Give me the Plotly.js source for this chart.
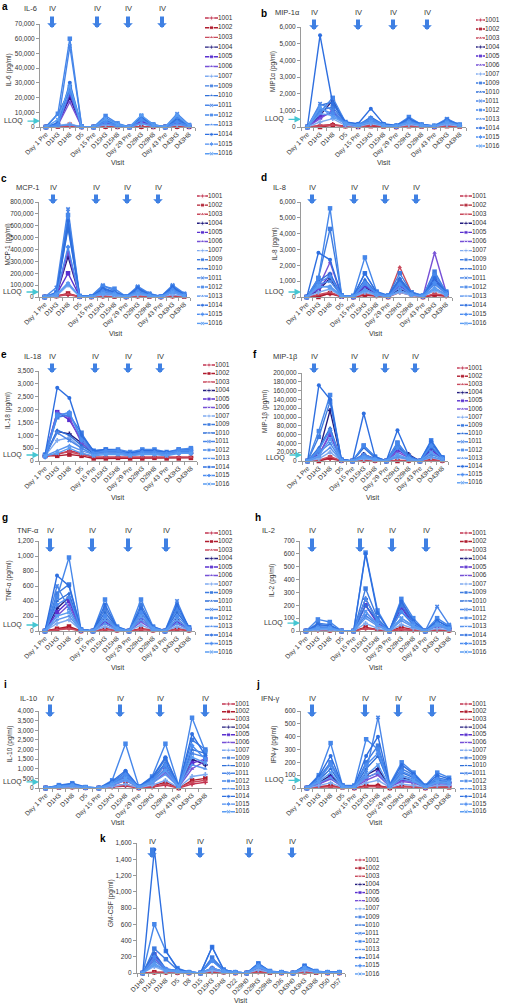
<!DOCTYPE html>
<html><head><meta charset="utf-8">
<script src="https://cdn.plot.ly/plotly-3.0.1.min.js"></script>
<style>html,body{margin:0;padding:0;background:#fff}#chart{width:505px;height:1004px}</style>
</head><body><div id="chart"></div>
<script>
// ---------- categories / series names ----------
const visits = ['Day 1 Pre','D1H3','D1H8','D5','Day 15 Pre','D15H3','D15H8','Day 29 Pre','D29H3','D29H8','Day 43 Pre','D43H3','D43H8'];
const visitsK = ['D1H0','D1H3','D1H8','D5','D8','D15','D15H3','D15H8','D22','D29H0','D29H3','D29H8','D36','D43H0','D43H3','D43H8','D50','D57'];
const patients = ['1001','1002','1003','1004','1005','1006','1007','1009','1010','1011','1012','1013','1014','1015','1016'];

// ---------- values (pg/ml), one row per patient ----------
const il6 = [
[0,200,500,0,0,100,50,0,100,50,0,100,50],
[0,300,1500,50,0,200,100,0,150,80,0,200,100],
[0,100,800,0,0,150,50,0,100,50,0,150,50],
[0,2000,20000,100,0,3000,1000,0,4000,800,0,3000,600],
[0,1500,22000,100,0,2500,800,0,3500,700,0,2500,500],
[0,1200,17000,50,0,2000,700,0,3000,600,0,2000,400],
[0,800,2000,0,0,1500,500,0,2000,500,0,1500,400],
[0,3000,27000,200,0,5000,1500,0,6000,1200,0,5000,1000],
[0,9000,25000,200,0,6000,2000,0,7000,1500,0,6000,1200],
[0,2000,55000,300,0,4000,1200,0,5000,1000,0,9000,1500],
[0,9000,60000,300,0,7500,2500,0,7500,1800,0,7000,1300],
[0,1000,1500,0,0,2000,600,0,2500,600,0,2000,500],
[0,2500,30000,200,0,4500,1500,0,6500,1300,0,4000,800],
[0,1500,24000,100,0,3500,1200,0,5000,1000,0,3500,700],
[0,5000,28000,150,0,5500,1800,0,8000,1400,0,8000,1000]];
const mip1a = [
[0,100,150,50,50,100,50,0,80,50,0,80,50],
[0,0,100,50,0,50,30,0,50,30,0,50,30],
[0,80,120,30,0,80,40,0,60,40,0,60,40],
[0,700,1600,200,50,300,100,50,300,100,50,200,100],
[0,600,900,150,50,400,100,30,250,80,30,200,80],
[0,500,1000,150,50,350,80,30,200,80,30,180,80],
[0,300,500,100,30,200,60,20,150,60,20,150,60],
[0,1000,1200,250,100,500,150,50,400,120,50,350,120],
[0,1300,1500,300,100,600,150,80,500,150,50,400,150],
[0,1400,1000,200,100,400,120,50,300,100,50,500,100],
[0,900,1750,300,150,500,150,80,600,150,80,450,150],
[0,800,700,200,80,300,100,50,300,100,50,300,100],
[0,5500,1400,300,200,1100,200,100,500,150,50,400,120],
[0,1100,800,250,100,450,100,60,350,120,40,350,100],
[0,1200,600,200,100,300,100,50,250,100,50,250,100]];
const mcp1 = [
[0,5000,20000,2000,0,5000,3000,0,5000,3000,0,5000,3000],
[0,8000,30000,2000,0,8000,4000,0,8000,4000,0,8000,4000],
[0,6000,25000,2000,0,6000,3000,0,6000,3000,0,10000,3000],
[0,15000,340000,5000,3000,40000,20000,2000,40000,15000,2000,50000,15000],
[0,20000,200000,5000,3000,30000,15000,2000,30000,10000,2000,40000,10000],
[0,15000,380000,5000,3000,35000,15000,2000,35000,12000,2000,45000,12000],
[0,10000,100000,3000,2000,20000,10000,1000,20000,8000,1000,20000,8000],
[0,30000,600000,8000,5000,80000,40000,3000,70000,25000,3000,80000,20000],
[0,25000,580000,7000,5000,60000,30000,3000,60000,20000,3000,70000,20000],
[0,80000,740000,10000,8000,100000,50000,5000,90000,30000,5000,100000,30000],
[0,40000,690000,8000,6000,90000,70000,4000,80000,25000,4000,90000,25000],
[0,20000,120000,5000,3000,40000,20000,2000,40000,15000,2000,50000,15000],
[0,35000,640000,8000,6000,70000,40000,4000,75000,20000,4000,85000,20000],
[0,25000,420000,6000,4000,50000,30000,3000,50000,15000,3000,60000,15000],
[0,20000,110000,5000,3000,30000,20000,2000,30000,10000,2000,40000,10000]];
const il8 = [
[0,100,200,20,0,100,50,0,300,100,0,100,50],
[0,0,250,20,0,150,80,0,1000,200,0,150,80],
[0,150,300,30,0,200,100,0,1900,300,0,200,100],
[0,400,1200,50,0,600,200,50,500,200,50,1000,200],
[0,500,1400,50,0,700,250,50,700,200,50,1200,250],
[0,600,2200,50,0,500,200,50,800,250,50,2800,300],
[0,300,500,30,0,300,100,30,300,100,30,400,100],
[0,1200,4300,100,50,1500,300,80,1500,300,80,1600,300],
[0,1000,1500,80,50,1100,250,60,1200,250,60,1000,250],
[0,800,1000,60,50,800,200,50,900,200,50,800,200],
[0,1200,5600,100,80,2500,350,100,1000,300,100,1400,350],
[0,600,700,50,30,500,150,40,600,150,40,600,150],
[0,2800,2350,100,60,1500,300,80,1100,250,60,1200,300],
[0,900,1300,80,40,900,250,60,800,200,60,900,250],
[0,700,600,50,30,400,150,40,400,150,40,500,150]];
const il18 = [
[200,250,400,300,150,150,150,150,150,150,150,150,150],
[200,200,250,200,100,100,120,100,100,120,100,100,120],
[150,300,350,250,150,150,150,150,150,150,150,150,150],
[200,1150,1050,700,300,350,300,250,300,300,250,350,300],
[200,1900,1600,800,350,400,350,300,350,350,300,400,350],
[250,1900,1700,700,300,350,350,300,350,300,300,300,300],
[200,800,900,500,250,300,300,250,300,300,250,300,300],
[200,1700,1800,1100,350,450,400,300,400,400,300,450,450],
[200,1200,1000,600,300,400,350,300,350,350,300,400,350],
[200,1100,800,500,250,350,350,250,300,300,250,350,350],
[250,1800,1850,900,400,450,450,350,450,450,350,450,500],
[200,400,600,400,250,300,300,250,300,300,250,350,350],
[250,2850,2450,1000,400,450,400,300,400,400,350,400,400],
[150,1750,1900,800,300,400,400,250,350,350,300,400,400],
[200,300,500,300,200,250,250,200,250,250,200,300,300]];
const mip1b = [
[0,1000,5000,500,0,1000,500,0,1000,500,0,2000,500],
[0,0,8000,500,0,2000,1000,0,0,1000,0,3000,1000],
[0,2000,10000,500,0,3000,1000,0,2000,1000,0,2000,1000],
[0,20000,115000,2000,0,15000,5000,0,30000,15000,0,30000,8000],
[0,15000,60000,2000,0,10000,5000,0,25000,10000,0,25000,6000],
[0,10000,65000,2000,0,8000,4000,0,20000,8000,0,20000,5000],
[0,5000,20000,1000,0,5000,2000,0,8000,3000,0,8000,2000],
[0,55000,135000,3000,0,35000,8000,0,42000,10000,0,40000,8000],
[0,30000,75000,3000,0,30000,7000,0,35000,8000,0,30000,7000],
[0,20000,40000,2000,0,15000,5000,0,10000,5000,0,15000,5000],
[0,68000,150000,3000,0,35000,10000,0,40000,10000,0,47000,8000],
[0,10000,30000,1500,0,10000,3000,0,10000,4000,0,10000,3000],
[0,172000,140000,4000,0,108000,10000,0,70000,12000,0,45000,8000],
[0,25000,70000,2000,0,12000,5000,0,30000,8000,0,35000,6000],
[0,12000,50000,1500,0,8000,3000,0,15000,5000,0,20000,4000]];
const tnfa = [
[0,20,40,0,0,20,10,0,20,10,0,20,10],
[0,30,60,0,0,30,10,0,30,10,0,30,10],
[0,20,30,0,0,20,10,0,20,10,0,20,10],
[0,300,450,10,0,150,30,0,200,30,0,150,30],
[0,250,400,10,0,120,30,0,150,30,0,120,30],
[0,200,350,10,0,100,20,0,120,20,0,100,20],
[0,100,150,5,0,60,15,0,80,15,0,60,15],
[0,500,620,20,0,300,50,0,350,50,0,300,40],
[0,400,500,20,0,250,40,0,300,40,0,250,40],
[0,600,300,10,0,200,30,0,250,30,0,400,30],
[0,450,980,20,0,420,60,0,420,60,0,300,50],
[0,150,200,10,0,100,20,0,150,20,0,100,20],
[0,740,600,20,0,350,50,0,300,50,0,350,50],
[0,350,450,15,0,200,40,0,250,40,0,200,40],
[0,200,250,10,0,150,30,0,200,30,0,150,30]];
const il2 = [
[0,5,5,0,0,20,10,0,10,5,0,5,5],
[0,10,5,0,0,30,10,0,30,10,0,10,5],
[0,5,10,0,0,20,10,0,15,10,0,10,5],
[0,30,20,0,0,250,80,0,200,60,0,50,20],
[0,20,20,0,0,200,60,0,180,50,0,40,20],
[0,20,15,0,0,150,50,0,230,60,0,40,15],
[0,10,10,0,0,60,20,0,50,20,0,20,10],
[0,60,50,0,0,330,100,0,200,70,0,80,30],
[0,40,40,0,0,200,80,0,150,50,0,60,20],
[0,30,30,0,0,120,50,0,100,40,0,190,50],
[0,90,70,0,0,610,160,0,250,100,0,100,40],
[0,20,20,0,0,100,40,0,80,30,0,40,15],
[0,50,40,0,0,600,140,0,230,80,0,80,30],
[0,30,30,0,0,250,80,0,150,60,0,60,20],
[0,20,20,0,0,150,50,0,100,40,0,50,20]];
const il10 = [
[0,20,30,10,0,50,100,0,50,150,0,200,300],
[0,30,50,10,0,80,200,0,100,300,0,400,500],
[0,20,40,10,0,60,150,0,80,200,0,300,400],
[0,80,150,30,0,200,600,50,400,1200,100,1500,1200],
[0,60,120,20,0,150,500,40,300,1000,80,1300,1500],
[0,50,100,20,0,120,400,30,250,800,60,1000,1400],
[0,30,60,10,0,80,200,20,150,400,30,600,700],
[0,120,200,40,0,300,800,60,500,1500,100,2500,2000],
[0,100,180,30,0,250,700,50,450,1300,80,2000,1800],
[0,80,150,30,0,200,600,40,350,1000,70,1800,1600],
[0,150,250,50,0,400,2300,80,600,2300,120,3650,1900],
[0,50,100,20,0,150,400,30,250,700,50,1200,1000],
[0,130,220,40,0,350,900,70,550,1600,100,2800,1700],
[0,90,170,30,0,250,700,50,400,1200,80,2200,1500],
[0,70,130,20,0,180,500,40,300,900,60,1600,1300]];
const ifng = [
[0,10,20,5,0,20,20,0,15,10,0,10,10],
[0,10,15,5,0,15,15,0,10,10,0,10,5],
[0,5,10,5,0,10,10,0,10,10,0,10,5],
[0,40,100,10,5,100,150,10,80,60,5,50,40],
[0,30,80,10,5,80,120,10,60,50,5,40,30],
[0,30,70,10,5,60,100,10,50,40,5,30,30],
[0,20,40,5,5,40,60,5,30,20,5,20,20],
[0,80,200,20,10,200,330,20,150,100,10,80,60],
[0,60,150,15,10,150,250,20,120,80,10,60,50],
[0,50,200,15,10,120,550,20,100,70,10,50,40],
[0,100,350,20,20,380,300,30,200,120,20,120,80],
[0,40,80,10,5,80,120,10,70,50,5,40,30],
[0,90,250,20,15,250,400,20,180,110,15,100,70],
[0,70,180,15,10,180,270,20,130,90,10,70,50],
[0,50,120,10,5,100,180,10,90,60,5,50,40]];
const gmcsf = [
[0,5,5,2,0,0,10,5,0,0,10,5,0,0,10,5,0,0],
[0,10,10,5,0,0,20,10,0,0,15,5,0,0,10,5,0,0],
[0,5,8,3,0,0,15,8,0,0,10,5,0,0,10,5,0,0],
[0,200,40,20,5,0,60,20,5,0,80,15,5,0,60,15,5,5],
[0,230,40,20,5,0,50,20,5,0,70,15,5,0,50,15,5,5],
[0,180,35,15,5,0,40,15,5,0,60,10,5,0,50,10,5,5],
[0,80,20,10,5,0,30,10,5,0,40,10,5,0,30,10,5,5],
[0,300,170,40,10,0,190,40,10,0,110,20,10,0,80,20,10,10],
[0,250,50,30,10,0,160,30,10,0,100,20,10,0,70,20,10,10],
[0,150,40,25,10,0,150,30,5,0,90,20,10,0,90,20,10,10],
[0,600,270,60,10,0,320,40,10,0,120,25,10,0,90,25,10,10],
[0,120,30,20,5,0,60,20,5,0,70,15,5,0,60,15,5,5],
[0,1520,270,50,10,0,320,40,10,0,115,20,10,0,85,20,10,10],
[0,200,50,30,10,0,150,30,10,0,100,20,10,0,70,20,10,10],
[0,100,30,20,5,0,60,20,5,0,80,15,5,0,60,15,5,5]];
const lloqValues = {a:4000,b:460,c:42000,d:316,e:233,f:13600,g:80,h:62,i:315,j:60};

// ---------- styles ----------
const colors = ['#c2334f','#b01c2e','#c94a5c','#231c7e','#5a30cf','#7650d6','#7eaaf0','#3e7ce0','#2f6fd8','#4a86e8','#4687ea','#5a94ee','#2e6fe0','#4b8cf0','#5a9cf2'];
const symbols = ['cross','square','triangle-up','cross','square','triangle-up','cross','square','triangle-up','x','square','triangle-up','circle','diamond','x'];

const panels = [
 {id:'a',name:'IL-6',yt:'IL-6 (pg/ml)',cats:visits,vals:il6,max:70000,dt:10000,
  g:{xL:40,xR:195,yT:24,yB:127,lL:205,lR:218,lY:18,lD:9.7,tx:30,ty:9,iv:[52,97,128,162],ivY:9,aT:15,aB:28,lab:[5,7],ytx:8,vx:117,vy:163}},
 {id:'b',name:'MIP-1\u03b1',yt:'MIP1\u03b1 (pg/ml)',cats:visits,vals:mip1a,max:6000,dt:1000,
  g:{xL:301,xR:466,yT:27,yB:127,lL:476,lR:485,lY:20,lD:9,tx:287,ty:13,iv:[314,358,393,427],ivY:13,aT:18,aB:30,lab:[264,14],ytx:273,vx:383,vy:163}},
 {id:'c',name:'MCP-1',yt:'MCP-1 (pg/ml)',cats:visits,vals:mcp1,max:800000,dt:100000,
  g:{xL:39,xR:190,yT:202,yB:297,lL:197,lR:208,lY:196,lD:9.1,tx:27,ty:187,iv:[53,96,127,158],ivY:187,aT:193,aB:204,lab:[4,178],ytx:7,vx:115,vy:334}},
 {id:'d',name:'IL-8',yt:'IL-8 (pg/ml)',cats:visits,vals:il8,max:6000,dt:1000,
  g:{xL:301,xR:452,yT:202,yB:297,lL:460,lR:472,lY:196,lD:9.1,tx:279,ty:187,iv:[312,354,385,416],ivY:187,aT:193,aB:204,lab:[264,177],ytx:274,vx:375,vy:334}},
 {id:'e',name:'IL-18',yt:'IL-18 (pg/ml)',cats:visits,vals:il18,max:3500,dt:500,
  g:{xL:39,xR:197,yT:371,yB:461,lL:203,lR:215,lY:365,lD:8.5,tx:32,ty:356,iv:[52,95,128,160],ivY:356,aT:362,aB:373,lab:[4,354],ytx:8,vx:117,vy:497}},
 {id:'f',name:'MIP-1\u03b2',yt:'MIP-1\u03b2 (pg/ml)',cats:visits,vals:mip1b,max:200000,dt:20000,lloqShift:-3,
  g:{xL:302,xR:448,yT:373,yB:461,lL:457,lR:468,lY:368,lD:8.2,tx:285,ty:356,iv:[314,354,385,415],ivY:356,aT:362,aB:373,lab:[255,354],ytx:265,vx:372,vy:497}},
 {id:'g',name:'TNF-\u03b1',yt:'TNF-\u03b1 (pg/ml)',cats:visits,vals:tnfa,max:1200,dt:200,
  g:{xL:39,xR:195,yT:541,yB:631,lL:205,lR:218,lY:533,lD:8.5,tx:28,ty:530,iv:[50,92,128,166],ivY:530,aT:537,aB:552,lab:[5,517],ytx:9,vx:117,vy:667}},
 {id:'h',name:'IL-2',yt:'IL-2 (pg/ml)',cats:visits,vals:il2,max:700,dt:100,
  g:{xL:300,xR:455,yT:541,yB:631,lL:460,lR:472,lY:533,lD:8.5,tx:268,ty:530,iv:[312,360,392,426],ivY:530,aT:537,aB:552,lab:[258,517],ytx:272,vx:375,vy:667}},
 {id:'i',name:'IL-10',yt:'IL-10 (pg/ml)',cats:visits,vals:il10,max:4000,dt:500,
  g:{xL:39,xR:212,yT:711,yB:788,lL:222,lR:235,lY:704,lD:7.7,tx:28,ty:698,iv:[50,120,160,205],ivY:698,aT:703,aB:717,lab:[5,684],ytx:9,vx:117,vy:822}},
 {id:'j',name:'IFN-\u03b3',yt:'IFN-\u03b3 (pg/ml)',cats:visits,vals:ifng,max:600,dt:100,
  g:{xL:301,xR:455,yT:711,yB:788,lL:460,lR:472,lY:704,lD:7.7,tx:270,ty:698,iv:[312,365,398,432],ivY:698,aT:703,aB:717,lab:[258,684],ytx:273,vx:375,vy:822}},
 {id:'k',name:'',yt:'GM-CSF (pg/ml)',cats:visitsK,vals:gmcsf,max:1600,dt:200,
  g:{xL:137,xR:345,yT:843,yB:973,lL:355,lR:365,lY:860,lD:8.14,tx:0,ty:0,iv:[152,200,249,292],ivY:841,aT:846,aB:858,lab:[103,838],ytx:111,vx:240,vy:1000}}
];

const W=505,H=1004;
const fx=p=>p/W, fy=p=>1-p/H;
const FONT='"Liberation Sans", Arial, sans-serif';
const TXT='#333';
const traces=[];
const layout={width:W,height:H,margin:{l:0,r:0,t:0,b:0},paper_bgcolor:'#fff',plot_bgcolor:'#fff',
  showlegend:false,font:{family:FONT,size:7,color:TXT},annotations:[]};
const ann=layout.annotations;

panels.forEach((P,n)=>{
  const G=P.g, i=n+1, li=n+12;
  const sx=i===1?'':String(i), lx=String(li);
  layout['xaxis'+sx]={domain:[fx(G.xL),fx(G.xR)],anchor:'y'+sx,type:'category',range:[-0.5,P.cats.length-0.5],
    showline:true,linecolor:'#9a9a9a',linewidth:1,ticks:'outside',ticklen:3,tickcolor:'#9a9a9a',tickson:'boundaries',
    tickangle:-45,tickfont:{size:6.5,color:TXT},showgrid:false,zeroline:false,fixedrange:true};
  layout['yaxis'+sx]={domain:[fy(G.yB),fy(G.yT)],anchor:'x'+sx,range:[0,P.max],dtick:P.dt,tick0:0,tickformat:',',
    showline:true,linecolor:'#9a9a9a',linewidth:1,ticks:'outside',ticklen:3,tickcolor:'#9a9a9a',
    tickfont:{size:6.5,color:TXT},showgrid:false,zeroline:false,fixedrange:true};
  // legend axes
  layout['xaxis'+lx]={domain:[fx(G.lL),fx(G.lR)],anchor:'y'+lx,range:[0,1],visible:false,fixedrange:true};
  layout['yaxis'+lx]={domain:[fy(G.lY+14.5*G.lD),fy(G.lY-0.5*G.lD)],anchor:'x'+lx,range:[14.5,-0.5],visible:false,fixedrange:true};

  P.vals.forEach((row,s)=>{
    traces.push({type:'scatter',mode:'lines+markers',x:P.cats,y:row,xaxis:'x'+sx,yaxis:'y'+sx,
      name:patients[s],line:{color:colors[s],width:1.4},
      marker:{symbol:symbols[s],size:symbols[s]==='square'?4.5:4,color:colors[s],line:{width:0}},
      cliponaxis:false,hoverinfo:'skip'});
    traces.push({type:'scatter',mode:'lines+markers+text',x:[0,0.5,1],y:[s,s,s],xaxis:'x'+lx,yaxis:'y'+lx,
      line:{color:colors[s],width:1.4},marker:{symbol:symbols[s],size:[0,4,0],color:colors[s]},
      text:['','',patients[s]],textposition:'middle right',textfont:{size:6.5,color:TXT},
      cliponaxis:false,hoverinfo:'skip'});
  });

  ann.push({text:'<b>'+P.id+'</b>',x:fx(G.lab[0]),y:fy(G.lab[1]),xref:'paper',yref:'paper',xanchor:'center',yanchor:'middle',showarrow:false,font:{size:10,color:'#000'}});
  if(P.name) ann.push({text:P.name,x:fx(G.tx),y:fy(G.ty),xref:'paper',yref:'paper',xanchor:'center',yanchor:'middle',showarrow:false,font:{size:7.5}});
  G.iv.forEach(xv=>{
    ann.push({text:'IV',x:fx(xv),y:fy(G.ivY),xref:'paper',yref:'paper',xanchor:'center',yanchor:'middle',showarrow:false,font:{size:7.5}});
    ann.push({text:'',x:fx(xv),y:fy(G.aB),xref:'paper',yref:'paper',showarrow:true,ax:0,ay:-(G.aB-G.aT),
      arrowhead:1,arrowsize:0.4,arrowwidth:4,arrowcolor:'#3f80e3',standoff:0});
  });
  ann.push({text:P.yt,x:fx(G.ytx),y:fy((G.yT+G.yB)/2-5),xref:'paper',yref:'paper',textangle:-90,xanchor:'center',yanchor:'middle',showarrow:false,font:{size:6.5}});
  ann.push({text:'Visit',x:fx(G.vx),y:fy(G.vy),xref:'paper',yref:'paper',xanchor:'center',yanchor:'middle',showarrow:false,font:{size:7}});
  if(lloqValues[P.id]!==undefined){
    const lv=lloqValues[P.id];
    ann.push({text:'',x:fx(G.xL),y:lv,xref:'paper',yref:'y'+sx,showarrow:true,ax:-14,ay:0,arrowhead:2,arrowsize:1,arrowwidth:1.3,arrowcolor:'#45c6d2',standoff:0});
    ann.push({text:'LLOQ',x:fx(G.xL-15),y:lv,xref:'paper',yref:'y'+sx,xanchor:'right',yanchor:'middle',yshift:P.lloqShift||0,showarrow:false,font:{size:7}});
  }
});

Plotly.newPlot('chart',traces,layout,{staticPlot:true,displayModeBar:false});
</script></body></html>
